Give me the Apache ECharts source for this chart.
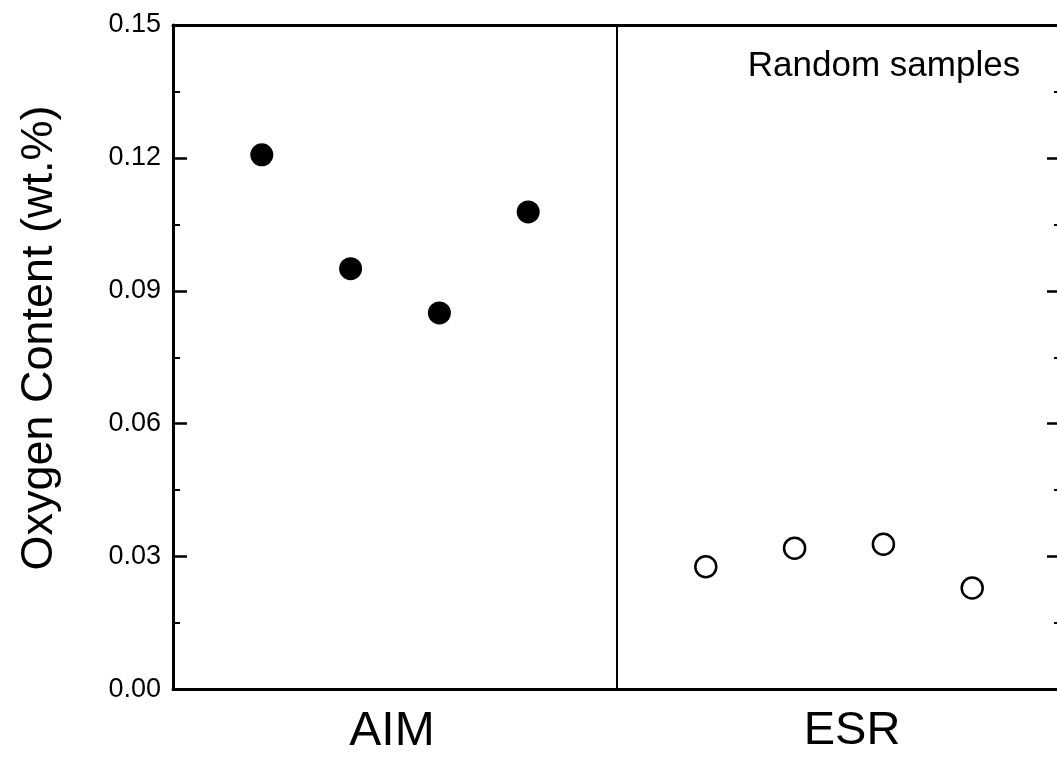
<!DOCTYPE html>
<html>
<head>
<meta charset="utf-8">
<script src="https://cdn.jsdelivr.net/npm/echarts@6/dist/echarts.min.js"></script>
<style>
  html, body { margin: 0; padding: 0; background: #fff; }
  #chart { width: 1057px; height: 758px; }
</style>
</head>
<body>
<div id="chart"></div>
<script>
// 分组标签
var groups = ['AIM', 'ESR'];
// 样品位置 (x) 与氧含量 (wt.%)
var aimX = [1, 2, 3, 4];
var aimO = [0.1207, 0.0950, 0.0850, 0.1078];
var esrX = [6, 7, 8, 9];
var esrO = [0.0277, 0.0319, 0.0328, 0.0229];
var yTicks = [0, 0.03, 0.06, 0.09, 0.12, 0.15];

var font = 'Liberation Sans, Arial, sans-serif';
var chart = echarts.init(document.getElementById('chart'));

function pairs(xs, ys) {
    return xs.map(function (x, i) { return [x, ys[i]]; });
}

function yAxisOf(pos, showLabel) {
    return {
        type: 'value',
        position: pos,
        min: yTicks[0],
        max: yTicks[yTicks.length - 1],
        interval: 0.03,
        splitLine: { show: false },
        axisLine: { show: true, onZero: false, lineStyle: { color: '#000', width: 3 } },
        axisTick: { show: true, inside: true, length: 14, lineStyle: { color: '#000', width: 2.5 } },
        minorTick: { show: true, splitNumber: 2, length: 7, lineStyle: { color: '#000', width: 2 } },
        axisLabel: {
            show: showLabel, color: '#000', fontFamily: font, fontSize: 27, margin: 12,
            formatter: function (v) { return v.toFixed(2); }
        }
    };
}

var opt = {
    animation: false,
    backgroundColor: '#fff',
    grid: { left: 173, right: -4, top: 25, bottom: 68.5, outerBoundsMode: 'none', containLabel: false },
    xAxis: [
        {
            type: 'value', min: 0, max: 10, position: 'bottom',
            axisLine: { show: true, onZero: false, lineStyle: { color: '#000', width: 3 } },
            axisTick: { show: false }, axisLabel: { show: false }, splitLine: { show: false }
        },
        {
            type: 'value', min: 0, max: 10, position: 'top',
            axisLine: { show: true, onZero: false, lineStyle: { color: '#000', width: 3 } },
            axisTick: { show: false }, axisLabel: { show: false }, splitLine: { show: false }
        },
        {
            type: 'category', data: groups, position: 'bottom',
            axisLine: { show: false }, axisTick: { show: false }, splitLine: { show: false },
            axisLabel: {
                color: '#000', fontFamily: font, margin: 18,
                formatter: function (v) { return v == 'AIM' ? '{a|' + v + '}' : '{b|' + v + '}'; },
                rich: {
                    a: { fontSize: 48, fontFamily: font, color: '#000', padding: [0, 6, 0, 0] },
                    b: { fontSize: 47, fontFamily: font, color: '#000', padding: [0, 0, 0, 26] }
                }
            }
        }
    ],
    yAxis: [yAxisOf('left', true), yAxisOf('right', false)],
    graphic: [
        {
            type: 'text', x: 40, y: 338, rotation: Math.PI / 2,
            style: {
                text: 'Oxygen Content (wt.%)', fill: '#000', font: '45px ' + font,
                align: 'center', verticalAlign: 'middle'
            }
        },
        {
            type: 'text', x: 884, y: 66,
            style: {
                text: 'Random samples', fill: '#000', font: '35px ' + font,
                align: 'center', verticalAlign: 'middle'
            }
        }
    ],
    series: [
        {
            name: 'AIM', type: 'scatter', xAxisIndex: 0, yAxisIndex: 0,
            symbol: 'circle', symbolSize: 23,
            itemStyle: { color: '#000', opacity: 1 },
            data: pairs(aimX, aimO),
            markLine: {
                silent: true, symbol: ['none', 'none'], label: { show: false },
                lineStyle: { color: '#000', width: 2, type: 'solid' },
                data: [{ xAxis: 5 }]
            }
        },
        {
            name: 'ESR', type: 'scatter', xAxisIndex: 0, yAxisIndex: 0,
            symbol: 'circle', symbolSize: 21,
            itemStyle: { color: '#fff', borderColor: '#000', borderWidth: 2.5, opacity: 1 },
            data: pairs(esrX, esrO)
        }
    ]
};

chart.setOption(opt);
</script>
</body>
</html>
